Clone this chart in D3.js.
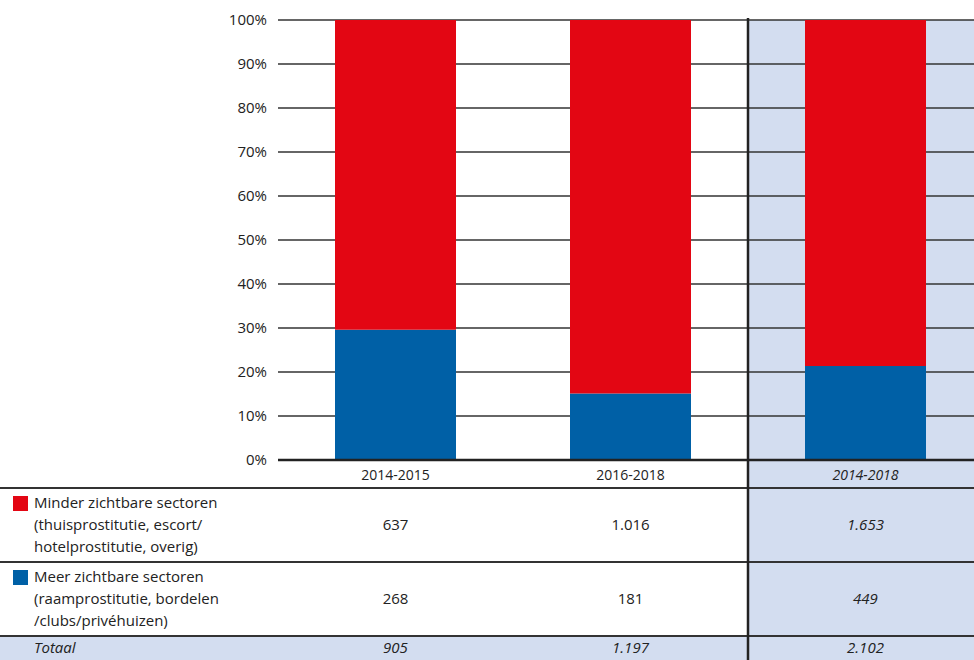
<!DOCTYPE html>
<html lang="nl">
<head>
<meta charset="utf-8">
<title>Zichtbare en minder zichtbare sectoren</title>
<style>
  body { margin: 0; padding: 0; background: #fff; }
  #chart { width: 974px; height: 660px; }
  text { font-family: "Open Sans", "Noto Sans", sans-serif; fill: #222; }
</style>
</head>
<body>
<div id="chart"></div>
<script src="https://cdn.jsdelivr.net/npm/d3@7"></script>
<script>
// data
var periods = ['2014-2015', '2016-2018', '2014-2018'];
var minder = [637, 1016, 1653];
var meer = [268, 181, 449];
var totaal = [905, 1197, 2102];
var yTicks = [0, 0.1, 0.2, 0.3, 0.4, 0.5, 0.6, 0.7, 0.8, 0.9, 1];
var rowLabels = [
  ['Minder zichtbare sectoren', '(thuisprostitutie, escort/', 'hotelprostitutie, overig)'],
  ['Meer zichtbare sectoren', '(raamprostitutie, bordelen', '/clubs/privéhuizen)']
];

var width = 974, height = 660;
var red = '#e30613', blue = '#0060a6', pale = '#d3ddf0', ink = '#333';
var plotLeft = 278, plotTop = 20, base = 460;

var svg = d3.select('#chart').append('svg')
  .attr('width', width)
  .attr('height', height);

var x = d3.scaleBand()
  .domain(periods)
  .range([plotLeft, plotLeft + 235 * 3])
  .paddingInner(0)
  .paddingOuter(0);

var y = d3.scaleLinear().domain([0, 1]).range([base, plotTop]);

var fmt = d3.formatLocale({ decimal: ',', thousands: '.', grouping: [3], currency: ['€', ''] }).format(',d');

// pale background for total column and totaal row
svg.append('rect')
  .attr('x', x('2014-2018'))
  .attr('y', plotTop)
  .attr('width', width - x('2014-2018'))
  .attr('height', height - plotTop)
  .style('fill', pale);

svg.append('rect')
  .attr('x', 0)
  .attr('y', 636)
  .attr('width', width)
  .attr('height', height - 636)
  .style('fill', pale);

// gridlines
svg.selectAll('.grid')
  .data(yTicks.filter(function(d) { return d > 0; }))
  .enter().append('line')
  .attr('x1', plotLeft)
  .attr('x2', width)
  .attr('y1', function(d) { return y(d); })
  .attr('y2', function(d) { return y(d); })
  .style('stroke', ink)
  .style('stroke-width', 1.5);

// stacked bars
var stackData = periods.map(function(p, i) {
  return { period: p, meer: meer[i] / totaal[i], minder: minder[i] / totaal[i] };
});
var series = d3.stack().keys(['meer', 'minder'])(stackData);
var colors = { meer: blue, minder: red };

svg.selectAll('.serie')
  .data(series)
  .enter().append('g')
  .style('fill', function(d) { return colors[d.key]; })
  .selectAll('rect')
  .data(function(d) { return d; })
  .enter().append('rect')
  .attr('x', function(d) { return x(d.data.period) + (x.bandwidth() - 121) / 2; })
  .attr('width', 121)
  .attr('y', function(d) { return y(d[1]); })
  .attr('height', function(d) { return y(d[0]) - y(d[1]); });

// y axis labels
var yAxis = d3.axisLeft(y)
  .tickValues(yTicks)
  .tickFormat(function(d) { return Math.round(d * 100) + '%'; })
  .tickSize(0)
  .tickPadding(11);

var ya = svg.append('g')
  .attr('transform', 'translate(' + plotLeft + ',0)')
  .call(yAxis);
ya.select('.domain').remove();
ya.selectAll('text')
  .style('font-family', '"Open Sans", "Noto Sans", sans-serif')
  .style('font-size', '15px')
  .style('fill', '#222');

// baseline
svg.append('line')
  .attr('x1', plotLeft).attr('x2', width)
  .attr('y1', base).attr('y2', base)
  .style('stroke', '#222')
  .style('stroke-width', 2.5);

// x axis labels (table header)
svg.selectAll('.xlab')
  .data(periods)
  .enter().append('text')
  .attr('x', function(d) { return x(d) + x.bandwidth() / 2; })
  .attr('y', 480)
  .attr('text-anchor', 'middle')
  .style('font-size', '14px')
  .style('font-style', function(d, i) { return i === 2 ? 'italic' : 'normal'; })
  .text(function(d) { return d; });

// table lines
[488, 562, 636].forEach(function(ly) {
  svg.append('line')
    .attr('x1', 0).attr('x2', width)
    .attr('y1', ly).attr('y2', ly)
    .style('stroke', ink)
    .style('stroke-width', 1.8);
});

// divider before total column
svg.append('line')
  .attr('x1', x('2014-2018')).attr('x2', x('2014-2018'))
  .attr('y1', plotTop - 2).attr('y2', height)
  .style('stroke', '#222')
  .style('stroke-width', 2.5);

// row labels with swatches
var rowTop = [488, 562];
var rowColors = [red, blue];
rowLabels.forEach(function(lines, r) {
  svg.append('rect')
    .attr('x', 13).attr('y', rowTop[r] + 8)
    .attr('width', 15).attr('height', 15)
    .style('fill', rowColors[r]);
  lines.forEach(function(t, k) {
    svg.append('text')
      .attr('x', 34)
      .attr('y', rowTop[r] + 20 + k * 22)
      .style('font-size', '15px')
      .text(t);
  });
});

svg.append('text')
  .attr('x', 34).attr('y', 653)
  .style('font-size', '15px')
  .style('font-style', 'italic')
  .text('Totaal');

// table values
var tableRows = [minder, meer, totaal];
var rowMid = [530, 604, 653];
tableRows.forEach(function(vals, r) {
  svg.selectAll('.v' + r)
    .data(vals)
    .enter().append('text')
    .attr('x', function(d, i) { return x(periods[i]) + x.bandwidth() / 2; })
    .attr('y', rowMid[r])
    .attr('text-anchor', 'middle')
    .style('font-size', '15px')
    .style('font-style', function(d, i) { return (i === 2 || r === 2) ? 'italic' : 'normal'; })
    .text(function(d) { return fmt(d); });
});
</script>
</body>
</html>
